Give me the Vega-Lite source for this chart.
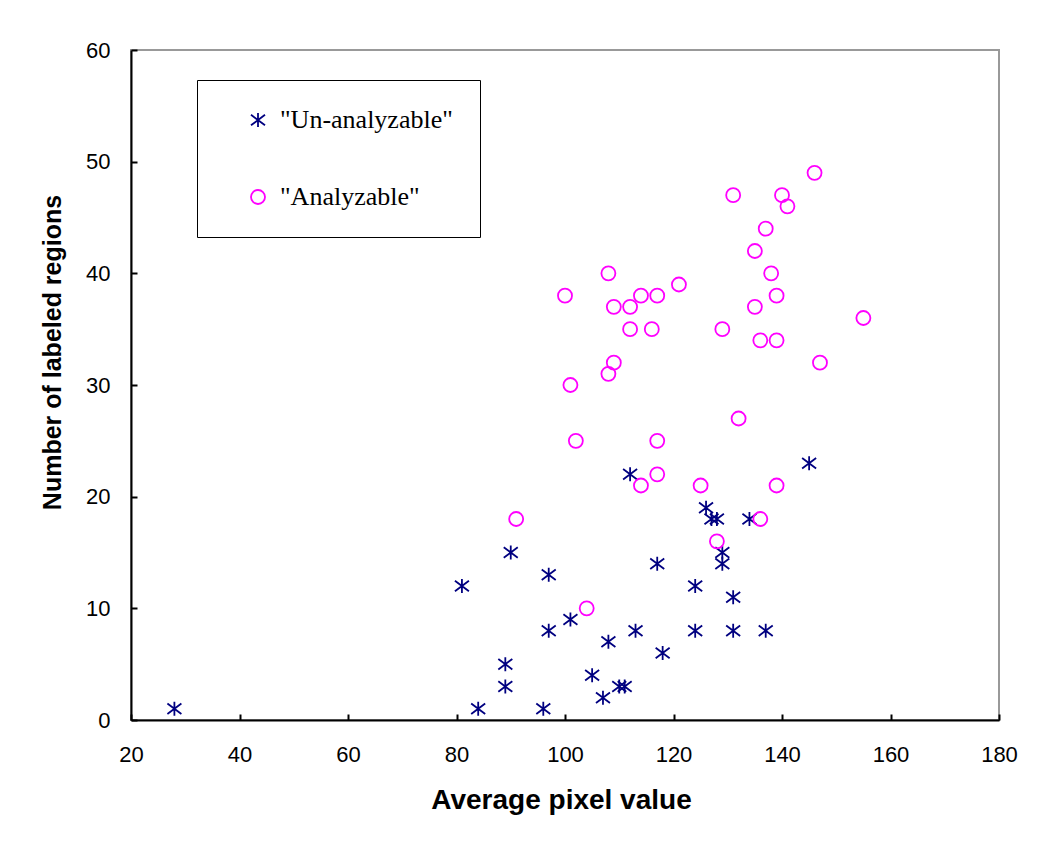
{
  "$schema": "https://vega.github.io/schema/vega-lite/v6.json",
  "width": 868,
  "height": 670,
  "autosize": {"type": "none"},
  "padding": {"left": 131, "top": 50, "right": 51, "bottom": 136},
  "background": "white",
  "config": {
    "view": {"stroke": "#999999", "strokeWidth": 2},
    "axis": {
      "domainColor": "black",
      "domainWidth": 2,
      "tickColor": "black",
      "tickWidth": 2,
      "tickSize": -6,
      "grid": false,
      "labelFont": "Liberation Sans",
      "labelFontSize": 22,
      "labelColor": "black",
      "titleFont": "Liberation Sans",
      "titleFontWeight": "bold",
      "titleColor": "black",
      "zindex": 1
    }
  },
  "data": {
    "values": [
      {"pixel": 28, "regions": 1, "group": "Un-analyzable"},
      {"pixel": 81, "regions": 12, "group": "Un-analyzable"},
      {"pixel": 84, "regions": 1, "group": "Un-analyzable"},
      {"pixel": 90, "regions": 15, "group": "Un-analyzable"},
      {"pixel": 89, "regions": 5, "group": "Un-analyzable"},
      {"pixel": 89, "regions": 3, "group": "Un-analyzable"},
      {"pixel": 97, "regions": 13, "group": "Un-analyzable"},
      {"pixel": 97, "regions": 8, "group": "Un-analyzable"},
      {"pixel": 96, "regions": 1, "group": "Un-analyzable"},
      {"pixel": 101, "regions": 9, "group": "Un-analyzable"},
      {"pixel": 105, "regions": 4, "group": "Un-analyzable"},
      {"pixel": 107, "regions": 2, "group": "Un-analyzable"},
      {"pixel": 108, "regions": 7, "group": "Un-analyzable"},
      {"pixel": 110, "regions": 3, "group": "Un-analyzable"},
      {"pixel": 111, "regions": 3, "group": "Un-analyzable"},
      {"pixel": 113, "regions": 8, "group": "Un-analyzable"},
      {"pixel": 112, "regions": 22, "group": "Un-analyzable"},
      {"pixel": 117, "regions": 14, "group": "Un-analyzable"},
      {"pixel": 118, "regions": 6, "group": "Un-analyzable"},
      {"pixel": 124, "regions": 12, "group": "Un-analyzable"},
      {"pixel": 124, "regions": 8, "group": "Un-analyzable"},
      {"pixel": 126, "regions": 19, "group": "Un-analyzable"},
      {"pixel": 127, "regions": 18, "group": "Un-analyzable"},
      {"pixel": 128, "regions": 18, "group": "Un-analyzable"},
      {"pixel": 129, "regions": 15, "group": "Un-analyzable"},
      {"pixel": 129, "regions": 14, "group": "Un-analyzable"},
      {"pixel": 131, "regions": 11, "group": "Un-analyzable"},
      {"pixel": 131, "regions": 8, "group": "Un-analyzable"},
      {"pixel": 134, "regions": 18, "group": "Un-analyzable"},
      {"pixel": 137, "regions": 8, "group": "Un-analyzable"},
      {"pixel": 145, "regions": 23, "group": "Un-analyzable"},
      {"pixel": 146, "regions": 49, "group": "Analyzable"},
      {"pixel": 131, "regions": 47, "group": "Analyzable"},
      {"pixel": 140, "regions": 47, "group": "Analyzable"},
      {"pixel": 141, "regions": 46, "group": "Analyzable"},
      {"pixel": 137, "regions": 44, "group": "Analyzable"},
      {"pixel": 135, "regions": 42, "group": "Analyzable"},
      {"pixel": 108, "regions": 40, "group": "Analyzable"},
      {"pixel": 138, "regions": 40, "group": "Analyzable"},
      {"pixel": 121, "regions": 39, "group": "Analyzable"},
      {"pixel": 100, "regions": 38, "group": "Analyzable"},
      {"pixel": 114, "regions": 38, "group": "Analyzable"},
      {"pixel": 117, "regions": 38, "group": "Analyzable"},
      {"pixel": 139, "regions": 38, "group": "Analyzable"},
      {"pixel": 109, "regions": 37, "group": "Analyzable"},
      {"pixel": 112, "regions": 37, "group": "Analyzable"},
      {"pixel": 135, "regions": 37, "group": "Analyzable"},
      {"pixel": 155, "regions": 36, "group": "Analyzable"},
      {"pixel": 112, "regions": 35, "group": "Analyzable"},
      {"pixel": 116, "regions": 35, "group": "Analyzable"},
      {"pixel": 129, "regions": 35, "group": "Analyzable"},
      {"pixel": 136, "regions": 34, "group": "Analyzable"},
      {"pixel": 139, "regions": 34, "group": "Analyzable"},
      {"pixel": 147, "regions": 32, "group": "Analyzable"},
      {"pixel": 109, "regions": 32, "group": "Analyzable"},
      {"pixel": 108, "regions": 31, "group": "Analyzable"},
      {"pixel": 101, "regions": 30, "group": "Analyzable"},
      {"pixel": 132, "regions": 27, "group": "Analyzable"},
      {"pixel": 102, "regions": 25, "group": "Analyzable"},
      {"pixel": 117, "regions": 25, "group": "Analyzable"},
      {"pixel": 117, "regions": 22, "group": "Analyzable"},
      {"pixel": 114, "regions": 21, "group": "Analyzable"},
      {"pixel": 125, "regions": 21, "group": "Analyzable"},
      {"pixel": 139, "regions": 21, "group": "Analyzable"},
      {"pixel": 91, "regions": 18, "group": "Analyzable"},
      {"pixel": 136, "regions": 18, "group": "Analyzable"},
      {"pixel": 128, "regions": 16, "group": "Analyzable"},
      {"pixel": 104, "regions": 10, "group": "Analyzable"}
    ]
  },
  "mark": {"type": "point", "filled": false, "strokeWidth": 1.8, "opacity": 1},
  "encoding": {
    "x": {
      "field": "pixel",
      "type": "quantitative",
      "scale": {"domain": [20, 180], "nice": false, "zero": false},
      "axis": {
        "values": [20, 40, 60, 80, 100, 120, 140, 160, 180],
        "title": "Average pixel value",
        "titleFontSize": 28,
        "titleX": 430,
        "titleY": 88,
        "titleAlign": "center",
        "titleBaseline": "alphabetic",
        "labelPadding": 47,
        "labelBaseline": "alphabetic",
        "labelFlush": false
      }
    },
    "y": {
      "field": "regions",
      "type": "quantitative",
      "scale": {"domain": [0, 60], "nice": false},
      "axis": {
        "values": [0, 10, 20, 30, 40, 50, 60],
        "title": "Number of labeled regions",
        "titleFontSize": 25,
        "titleAngle": -90,
        "titleX": -71,
        "titleY": 302,
        "titleAlign": "center",
        "titleBaseline": "alphabetic",
        "labelPadding": 27,
        "labelFlush": false
      }
    },
    "color": {
      "field": "group",
      "type": "nominal",
      "scale": {"domain": ["Un-analyzable", "Analyzable"], "range": ["#000080", "#FF00FF"]},
      "legend": {
        "title": null,
        "orient": "none",
        "legendX": 66,
        "legendY": 30,
        "strokeColor": "black",
        "fillColor": "white",
        "padding": 27,
        "symbolOffset": 21,
        "labelOffset": 9,
        "rowPadding": 51,
        "labelFont": "Liberation Serif",
        "labelFontSize": 26,
        "labelColor": "black",
        "labelLimit": 400,
        "labelExpr": "'\"' + datum.label + '\"'",
        "symbolSize": 196,
        "symbolStrokeWidth": 1.8,
        "symbolFillColor": "transparent",
        "encode": {"legend": {"update": {"strokeWidth": {"value": 2}}}}
      }
    },
    "shape": {
      "field": "group",
      "type": "nominal",
      "scale": {"domain": ["Un-analyzable", "Analyzable"], "range": ["M0,-1L0,1M-1,-0.75L1,0.75M-1,0.75L1,-0.75", "circle"]}
    },
    "size": {"value": 196}
  }
}
